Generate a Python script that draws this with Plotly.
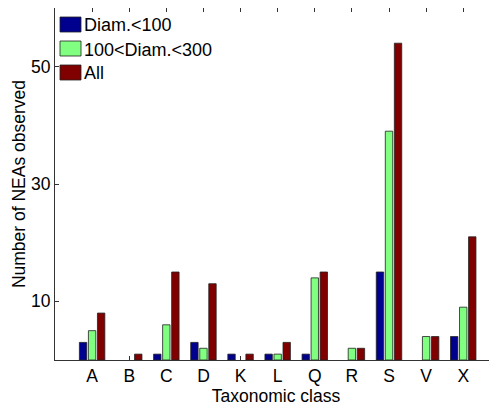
import plotly.graph_objects as go

classes = ["A", "B", "C", "D", "K", "L", "Q", "R", "S", "V", "X"]
diam_lt_100 = [3, 0, 1, 3, 1, 1, 1, 0, 15, 0, 4]
diam_100_300 = [5, 0, 6, 2, 0, 1, 14, 2, 39, 4, 9]
all_neas = [8, 1, 15, 13, 1, 3, 15, 2, 54, 4, 21]
series_names = ["Diam.<100", "100<Diam.<300", "All"]
series_colors = ["#00008F", "#80FF80", "#800000"]
y_ticks = [10, 30, 50]

# the page body adds an 8px offset; compensate so the figure fills the window
OFF = 8
W, H = 497 - OFF, 411 - OFF
L, R, T, B = 55 - OFF, 0, 8 - OFF, 51
FONT = dict(family="Liberation Sans, Arial, sans-serif", size=17.5, color="#000000")
LFONT = dict(family="Liberation Sans, Arial, sans-serif", size=18, color="#000000")

fig = go.Figure()
for name, vals, col in zip(series_names, [diam_lt_100, diam_100_300, all_neas], series_colors):
    fig.add_trace(go.Bar(
        x=classes, y=vals, name=name,
        marker=dict(color=col,
                    line=dict(color="#222222",
                              width=[0 if v == 0 else 0.8 for v in vals])),
    ))

# manual MATLAB-style legend (patches + labels), positions in screen px
pw = W - L - R
ph = H - T - B
def px2x(px):
    return (px - OFF - L) / pw
def py2y(py):
    return (OFF + H - B - py) / ph

legend_rows = [24.5, 48.5, 72.5]
for name, col, yc in zip(series_names, series_colors, legend_rows):
    fig.add_shape(type="rect", xref="paper", yref="paper",
                  x0=px2x(60), x1=px2x(81), y0=py2y(yc - 7.5), y1=py2y(yc + 7.5),
                  fillcolor=col, line=dict(color="#222222", width=0.8))
    fig.add_annotation(xref="paper", yref="paper", x=px2x(83), y=py2y(yc + 1),
                       text=name, showarrow=False, xanchor="left", yanchor="middle",
                       font=LFONT, borderpad=0)

fig.update_layout(
    width=W, height=H,
    margin=dict(l=L, r=R, t=T, b=B, pad=0),
    paper_bgcolor="white", plot_bgcolor="white",
    barmode="group", bargap=0.27, bargroupgap=0.18,
    showlegend=False,
    font=FONT,
)
fig.update_xaxes(
    range=[-1, 10.91], showline=True, linecolor="#333333", linewidth=1,
    mirror="ticks", ticks="inside", ticklen=4, tickcolor="#333333",
    showgrid=False, zeroline=False, tickfont=FONT, automargin=False,
    layer="below traces",
    title=dict(text="Taxonomic class", font=FONT, standoff=2),
)
fig.update_yaxes(
    range=[0, 60], tickvals=y_ticks, showline=True, linecolor="#333333", linewidth=1,
    ticks="inside", ticklen=4, tickcolor="#333333",
    showgrid=False, zeroline=False, tickfont=FONT, automargin=False,
    title=dict(text="Number of NEAs observed", font=FONT, standoff=0),
)

fig.write_html("out.html")
